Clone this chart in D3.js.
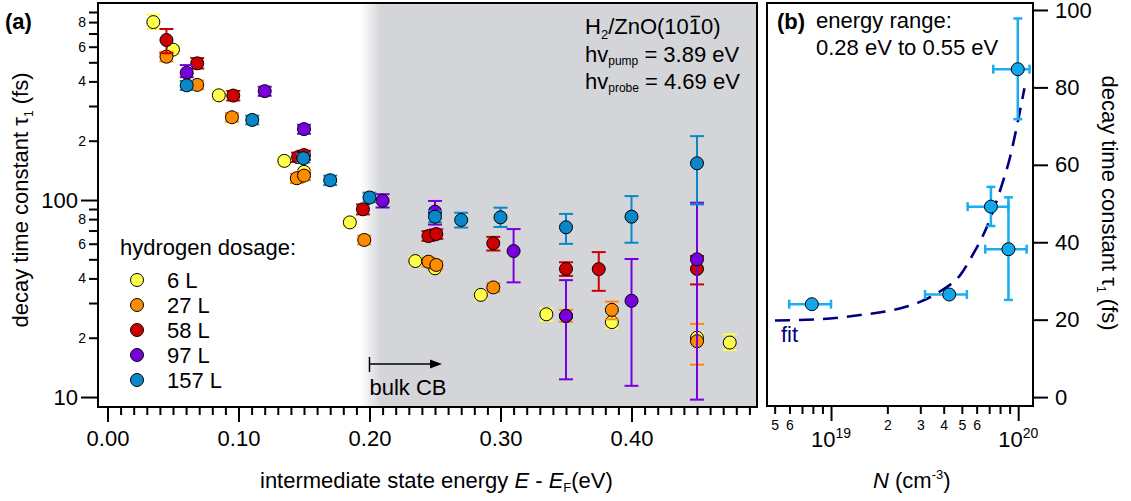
<!DOCTYPE html>
<html><head><meta charset="utf-8">
<script src="https://cdn.jsdelivr.net/npm/d3@7"></script>
<style>
body{margin:0;background:#fff;}
svg{display:block;font-family:"Liberation Sans",Arial,Helvetica,sans-serif;}
</style></head><body>
<svg id="chart" width="1131" height="501"></svg>
<script>
// ---------- Panel (a) data: intermediate state energy (eV) vs decay time constant (fs)
const seriesNames = ["6 L", "27 L", "58 L", "97 L", "157 L"];
const seriesColors = ["#ffff4c", "#ff8c00", "#cc0000", "#7800dc", "#0a87c8"];

const energy6 = [0.035, 0.050, 0.085, 0.135, 0.150, 0.185, 0.235, 0.250, 0.285, 0.335, 0.385, 0.450, 0.475];
const tau6    = [800, 580, 340, 158, 139, 77, 49, 45, 33, 26.3, 24, 20, 18.9];
const lo6     = [738, 550, 322, 150, 132, 73, 46.5, 43, 31.5, 24.4, 22.3, 18.6, 17.3];
const hi6     = [873, 610, 358, 166, 146, 81, 51.5, 47, 34.5, 28.2, 24.8, 21.0, 20.8];

const energy27 = [0.045, 0.0685, 0.095, 0.1445, 0.150, 0.196, 0.245, 0.251, 0.2945, 0.350, 0.385, 0.450];
const tau27    = [534, 384, 263, 129, 133, 62.7, 48.6, 46.8, 36.0, 25.8, 27.7, 19.2];
const lo27     = [505, 365, 250, 122, 126, 59.5, 46, 44.5, 34.2, 24.1, 24.8, 14.6];
const hi27     = [565, 404, 276, 136, 140, 66, 51, 49, 37.8, 27.7, 30.5, 23.5];

const energy58 = [0.045, 0.0685, 0.096, 0.1455, 0.150, 0.195, 0.245, 0.251, 0.2945, 0.350, 0.375, 0.450];
const tau58    = [649, 494, 339, 165, 169, 89.7, 65.6, 67.2, 60.3, 44.7, 44.6, 44.7];
const lo58     = [556, 465, 320, 156, 160, 84.5, 62, 63.5, 55.4, 41.2, 34.6, 37.3];
const hi58     = [738, 525, 358, 174, 178, 95, 69.5, 71, 65, 48.3, 54.4, 52];

const energy97 = [0.0605, 0.120, 0.150, 0.210, 0.250, 0.310, 0.350, 0.400, 0.450];
const tau97    = [443, 357, 229, 99.2, 87.3, 55.1, 25.8, 30.8, 50];
const lo97     = [420, 338, 217, 91.6, 75, 38.2, 12.3, 11.4, 9.7];
const hi97     = [484, 376, 241, 107, 98.9, 71.2, 39.2, 50.2, 96.9];

const energy157 = [0.0605, 0.1105, 0.1495, 0.170, 0.200, 0.250, 0.270, 0.300, 0.350, 0.400, 0.450];
const tau157    = [382, 255, 163, 126, 103, 82.3, 79.2, 81.7, 72.7, 82.3, 153.6];
const lo157     = [362, 242, 155, 119, 97.5, 77, 72.5, 73, 59.9, 60.7, 95];
const hi157     = [402, 268, 171, 133, 109, 88, 86.2, 91.4, 85, 104.7, 211];

const xTicksA = [0.00, 0.10, 0.20, 0.30, 0.40];
const xMinorA = [0.01,0.02,0.03,0.04,0.05,0.06,0.07,0.08,0.09,0.11,0.12,0.13,0.14,0.15,0.16,0.17,0.18,0.19,
                 0.21,0.22,0.23,0.24,0.25,0.26,0.27,0.28,0.29,0.31,0.32,0.33,0.34,0.35,0.36,0.37,0.38,0.39,
                 0.41,0.42,0.43,0.44,0.45,0.46,0.47,0.48,0.49];
const yMajorA = [10, 100];
const yMinorA = [20,30,40,50,60,70,80,90,200,300,400,500,600,700,800,900];
const yMinorLabelA = {20:"2",40:"4",60:"6",80:"8",200:"2",400:"4",600:"6",800:"8"};

// ---------- Panel (b) data: carrier density N vs decay time constant
const densityN = [7.9e18, 4.28e19, 7.15e19, 8.87e19, 9.95e19];
const tauB     = [24.0, 26.5, 49.2, 38.2, 84.7];
const nLo      = [5.98e18, 3.18e19, 5.37e19, 6.67e19, 7.36e19];
const nHi      = [1.0e19, 5.32e19, 8.87e19, 1.11e20, 1.15e20];
const tauLo    = [null, null, 44.2, 25.1, 71.8];
const tauHi    = [null, null, 54.3, 51.6, 97.8];

const fitN   = [5.02e18, 8.55e18, 1.43e19, 2.15e19, 2.99e19, 3.91e19, 4.9e19, 5.77e19, 6.81e19, 8.02e19, 9.06e19, 1.0e20, 1.08e20];
const fitTau = [19.8, 20.1, 21.2, 22.5, 24.6, 27.6, 31.5, 37.1, 44.0, 53.5, 62.1, 71.6, 79.8];

const yTicksB = [0, 20, 40, 60, 80, 100];
const xMajorB = [1e19, 1e20];
const xMajorExpB = ["19", "20"];
const xMinorB = [5e18,6e18,7e18,8e18,9e18,2e19,3e19,4e19,5e19,6e19,7e19,8e19,9e19];
const xMinorLabelB = {5e18:"5",6e18:"6",2e19:"2",3e19:"3",4e19:"4",5e19:"5",6e19:"6"};

// ---------- build
const svg = d3.select("#chart");
const FS = 22;
const A = {l: 98, r: 757, t: 3, b: 407};
const B = {l: 767, r: 1033, t: 3, b: 406};

const xa = d3.scaleLinear().domain([-0.00725, 0.4958]).range([A.l, A.r]);
const ya = d3.scaleLog().domain([8.9, 1000]).range([A.b, A.t]);
const xb = d3.scaleLog().domain([4.55e18, 1.2e20]).range([B.l, B.r]);
const yb = d3.scaleLinear().domain([-2.3, 101.8]).range([B.b, B.t]);

const defs = svg.append("defs");
const grad = defs.append("linearGradient").attr("id", "shade")
  .attr("gradientUnits", "userSpaceOnUse")
  .attr("x1", xa(0.193)).attr("x2", xa(0.209)).attr("y1", 0).attr("y2", 0);
grad.append("stop").attr("offset", 0).attr("stop-color", "#ffffff");
grad.append("stop").attr("offset", 1).attr("stop-color", "#d4d5d8");
defs.append("clipPath").attr("id", "clipA").append("rect")
  .attr("x", A.l).attr("y", A.t).attr("width", A.r - A.l).attr("height", A.b - A.t);
defs.append("clipPath").attr("id", "clipB").append("rect")
  .attr("x", B.l).attr("y", B.t).attr("width", B.r - B.l).attr("height", B.b - B.t);

// shaded bulk CB region
svg.append("rect").attr("x", xa(0.19)).attr("y", A.t)
  .attr("width", A.r - xa(0.19)).attr("height", A.b - A.t).attr("fill", "url(#shade)");

function styleAxis(g, size) {
  g.attr("font-family", null).attr("font-size", size);
  g.select(".domain").remove();
  g.selectAll(".tick line").attr("stroke", "#000").attr("stroke-width", 2);
  g.selectAll(".tick text").attr("fill", "#000");
}

// Panel a axes
svg.append("g").attr("transform", `translate(0,${A.b})`)
  .call(d3.axisBottom(xa).tickValues(xMinorA).tickSize(8).tickFormat(""))
  .call(g => styleAxis(g, FS));
svg.append("g").attr("transform", `translate(0,${A.b})`)
  .call(d3.axisBottom(xa).tickValues(xTicksA).tickSize(15).tickPadding(8).tickFormat(d3.format(".2f")))
  .call(g => styleAxis(g, FS));
svg.append("g").attr("transform", `translate(${A.l},0)`)
  .call(d3.axisLeft(ya).tickValues(yMajorA).tickSize(17).tickPadding(3).tickFormat(d => String(d)))
  .call(g => styleAxis(g, FS));
svg.append("g").attr("transform", `translate(${A.l},0)`)
  .call(d3.axisLeft(ya).tickValues(yMinorA).tickSize(9).tickPadding(3).tickFormat(d => yMinorLabelA[d] || ""))
  .call(g => styleAxis(g, 14));

// Panel a data
const seriesA = [
  {x: energy6, y: tau6, lo: lo6, hi: hi6},
  {x: energy27, y: tau27, lo: lo27, hi: hi27},
  {x: energy58, y: tau58, lo: lo58, hi: hi58},
  {x: energy97, y: tau97, lo: lo97, hi: hi97},
  {x: energy157, y: tau157, lo: lo157, hi: hi157}
];
const dataA = svg.append("g").attr("clip-path", "url(#clipA)");
seriesA.forEach((s, k) => {
  const col = seriesColors[k];
  const pts = s.x.map((x, i) => ({x, y: s.y[i], lo: s.lo[i], hi: s.hi[i]}));
  const gE = dataA.append("g").attr("stroke", col).attr("stroke-width", 2).attr("fill", "none");
  pts.filter(p => p.lo != null).forEach(p => {
    const cx = xa(p.x);
    gE.append("line").attr("x1", cx).attr("x2", cx).attr("y1", ya(p.lo)).attr("y2", ya(p.hi));
    gE.append("line").attr("x1", cx - 7).attr("x2", cx + 7).attr("y1", ya(p.lo)).attr("y2", ya(p.lo));
    gE.append("line").attr("x1", cx - 7).attr("x2", cx + 7).attr("y1", ya(p.hi)).attr("y2", ya(p.hi));
  });
  dataA.append("g").selectAll("circle").data(pts).join("circle")
    .attr("cx", p => xa(p.x)).attr("cy", p => ya(p.y)).attr("r", 6.5)
    .attr("fill", col).attr("stroke", "#000").attr("stroke-width", 1);
});

// Panel a frame
svg.append("rect").attr("x", A.l).attr("y", A.t).attr("width", A.r - A.l).attr("height", A.b - A.t)
  .attr("fill", "none").attr("stroke", "#000").attr("stroke-width", 2);

// Legend
const leg = svg.append("g").attr("font-size", FS);
leg.append("text").attr("x", 120).attr("y", 255).text("hydrogen dosage:");
seriesNames.forEach((n, i) => {
  const cy = 280 + 25 * i;
  leg.append("circle").attr("cx", 137).attr("cy", cy).attr("r", 6.5)
    .attr("fill", seriesColors[i]).attr("stroke", "#000").attr("stroke-width", 1);
  leg.append("text").attr("x", 167).attr("y", cy + 7.5).text(n);
});

// bulk CB arrow
const ax0 = xa(0.20), ax1 = 442, ay = 364;
svg.append("line").attr("x1", ax0).attr("x2", ax0).attr("y1", ay - 7).attr("y2", ay + 8).attr("stroke", "#000").attr("stroke-width", 1.5);
svg.append("line").attr("x1", ax0).attr("x2", ax1 - 8).attr("y1", ay).attr("y2", ay).attr("stroke", "#000").attr("stroke-width", 1.5);
svg.append("path").attr("d", `M${ax1},${ay} L${ax1 - 12},${ay - 4.5} L${ax1 - 12},${ay + 4.5} Z`).attr("fill", "#000");
svg.append("text").attr("x", ax0).attr("y", 395).attr("font-size", FS).text("bulk CB");

// annotations top right of panel a
const t1 = svg.append("text").attr("x", 585).attr("y", 34).attr("font-size", FS);
t1.append("tspan").text("H");
t1.append("tspan").attr("font-size", 13).attr("dy", 5).text("2");
t1.append("tspan").attr("dy", -5).text("/ZnO(1010)");
const t2 = svg.append("text").attr("x", 585).attr("y", 62).attr("font-size", FS);
t2.append("tspan").text("hv");
t2.append("tspan").attr("font-size", 12).attr("dy", 3).text("pump");
t2.append("tspan").attr("dy", -3).text(" = 3.89 eV");
const t3 = svg.append("text").attr("x", 585).attr("y", 89).attr("font-size", FS);
t3.append("tspan").text("hv");
t3.append("tspan").attr("font-size", 12).attr("dy", 3).text("probe");
t3.append("tspan").attr("dy", -3).text(" = 4.69 eV");
try {
  const e = t1.node().getExtentOfChar(9);
  svg.append("line").attr("x1", e.x + 2).attr("x2", e.x + e.width - 1)
    .attr("y1", e.y + 2.5).attr("y2", e.y + 2.5).attr("stroke", "#000").attr("stroke-width", 1.5);
} catch (err) {}

// panel labels and axis titles
svg.append("text").attr("x", 5).attr("y", 29).attr("font-size", FS).attr("font-weight", "bold").text("(a)");
const ytA = svg.append("text").attr("transform", "translate(28,200) rotate(-90)")
  .attr("text-anchor", "middle").attr("font-size", FS);
ytA.append("tspan").text("decay time constant τ");
ytA.append("tspan").attr("font-size", 12).attr("dy", 5).text("1");
ytA.append("tspan").attr("dy", -5).text(" (fs)");
const xtA = svg.append("text").attr("x", 260).attr("y", 488).attr("font-size", FS);
xtA.append("tspan").text("intermediate state energy ");
xtA.append("tspan").attr("font-style", "italic").text("E");
xtA.append("tspan").text(" - ");
xtA.append("tspan").attr("font-style", "italic").text("E");
xtA.append("tspan").attr("font-size", 13).attr("dy", 4).text("F");
xtA.append("tspan").attr("dy", -4).text("(eV)");

// ---------- Panel b
svg.append("g").attr("transform", `translate(0,${B.b})`)
  .call(d3.axisBottom(xb).tickValues(xMinorB).tickSize(8).tickPadding(6).tickFormat(d => xMinorLabelB[d] || ""))
  .call(g => styleAxis(g, 14));
const gXB = svg.append("g").attr("transform", `translate(0,${B.b})`)
  .call(d3.axisBottom(xb).tickValues(xMajorB).tickSize(15).tickFormat(""))
  .call(g => styleAxis(g, FS));
xMajorB.forEach((v, i) => {
  const t = svg.append("text").attr("x", xb(v)).attr("y", 447).attr("font-size", FS).attr("text-anchor", "middle");
  t.append("tspan").text("10");
  t.append("tspan").attr("font-size", 14).attr("dy", -9).text(xMajorExpB[i]);
});
svg.append("g").attr("transform", `translate(${B.r},0)`)
  .call(d3.axisRight(yb).tickValues(yTicksB).tickSize(15).tickPadding(7).tickFormat(d => String(d)))
  .call(g => styleAxis(g, FS));

const dataB = svg.append("g").attr("clip-path", "url(#clipB)");
const fitLine = d3.line().x((d, i) => xb(fitN[i])).y((d, i) => yb(fitTau[i])).curve(d3.curveMonotoneX);
dataB.append("path").attr("d", fitLine(fitN)).attr("fill", "none")
  .attr("stroke", "#00007f").attr("stroke-width", 2.6).attr("stroke-dasharray", "15,9");

const colB = "#1aadf0", fillB = "#14a6ec";
const gEB = dataB.append("g").attr("stroke", colB).attr("stroke-width", 2.5);
densityN.forEach((n, i) => {
  const cx = xb(n), cy = yb(tauB[i]);
  gEB.append("line").attr("x1", xb(nLo[i])).attr("x2", xb(nHi[i])).attr("y1", cy).attr("y2", cy);
  gEB.append("line").attr("x1", xb(nLo[i])).attr("x2", xb(nLo[i])).attr("y1", cy - 4.5).attr("y2", cy + 4.5);
  gEB.append("line").attr("x1", xb(nHi[i])).attr("x2", xb(nHi[i])).attr("y1", cy - 4.5).attr("y2", cy + 4.5);
  if (tauLo[i] != null) {
    gEB.append("line").attr("x1", cx).attr("x2", cx).attr("y1", yb(tauLo[i])).attr("y2", yb(tauHi[i]));
    gEB.append("line").attr("x1", cx - 4.5).attr("x2", cx + 4.5).attr("y1", yb(tauLo[i])).attr("y2", yb(tauLo[i]));
    gEB.append("line").attr("x1", cx - 4.5).attr("x2", cx + 4.5).attr("y1", yb(tauHi[i])).attr("y2", yb(tauHi[i]));
  }
});
dataB.append("g").selectAll("circle").data(densityN).join("circle")
  .attr("cx", d => xb(d)).attr("cy", (d, i) => yb(tauB[i])).attr("r", 6.5)
  .attr("fill", fillB).attr("stroke", "#000").attr("stroke-width", 1);

svg.append("rect").attr("x", B.l).attr("y", B.t).attr("width", B.r - B.l).attr("height", B.b - B.t)
  .attr("fill", "none").attr("stroke", "#000").attr("stroke-width", 2);

svg.append("text").attr("x", 777).attr("y", 29).attr("font-size", FS).attr("font-weight", "bold").text("(b)");
svg.append("text").attr("x", 816).attr("y", 28).attr("font-size", FS).text("energy range:");
svg.append("text").attr("x", 816).attr("y", 55).attr("font-size", FS).text("0.28 eV to 0.55 eV");
svg.append("text").attr("x", 781).attr("y", 342).attr("font-size", FS).attr("fill", "#00007f").text("fit");

const xtB = svg.append("text").attr("x", 873).attr("y", 488).attr("font-size", FS);
xtB.append("tspan").attr("font-style", "italic").text("N");
xtB.append("tspan").text(" (cm");
xtB.append("tspan").attr("font-size", 13).attr("dy", -9).text("-3");
xtB.append("tspan").attr("dy", 9).text(")");

const ytB = svg.append("text").attr("transform", "translate(1102,203) rotate(90)")
  .attr("text-anchor", "middle").attr("font-size", FS);
ytB.append("tspan").text("decay time constant τ");
ytB.append("tspan").attr("font-size", 12).attr("dy", 5).text("1");
ytB.append("tspan").attr("dy", -5).text(" (fs)");
</script></body></html>
